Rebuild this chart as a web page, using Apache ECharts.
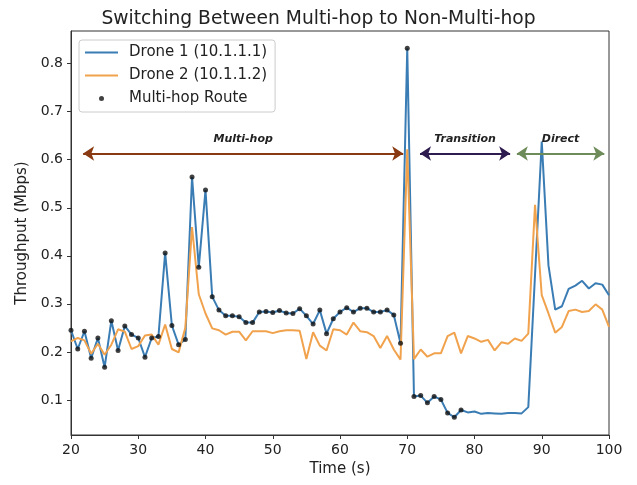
<!DOCTYPE html>
<html>
<head>
<meta charset="utf-8">
<script src="https://cdn.jsdelivr.net/npm/echarts@6/dist/echarts.min.js"></script>
<style>html,body{margin:0;padding:0;background:#fff}#c{width:637px;height:485px}</style>
</head>
<body>
<div id="c"></div>
<script>
const times = [20,21,22,23,24,25,26,27,28,29,30,31,32,33,34,35,36,37,38,39,40,41,42,43,44,45,46,47,48,49,50,51,52,53,54,55,56,57,58,59,60,61,62,63,64,65,66,67,68,69,70,71,72,73,74,75,76,77,78,79,80,81,82,83,84,85,86,87,88,89,90,91,92,93,94,95,96,97,98,99,100];
const drone1 = [0.245,0.206,0.243,0.187,0.229,0.168,0.265,0.203,0.254,0.236,
 0.229,0.189,0.229,0.232,0.406,0.255,0.215,0.226,0.564,0.376,
 0.537,0.315,0.287,0.275,0.275,0.273,0.261,0.261,0.283,0.284,
 0.282,0.286,0.281,0.280,0.290,0.275,0.258,0.287,0.238,0.269,
 0.283,0.292,0.283,0.291,0.291,0.283,0.283,0.287,0.277,0.218,
 0.832,0.107,0.109,0.094,0.107,0.101,0.073,0.064,0.079,0.074,
 0.076,0.071,0.073,0.072,0.071,0.073,0.073,0.072,0.085,0.360,
 0.638,0.380,0.288,0.295,0.331,0.338,0.348,0.332,0.343,0.340,0.318];
const drone2 = [0.222,0.229,0.224,0.196,0.217,0.194,0.215,0.247,0.242,0.206,
 0.212,0.234,0.236,0.215,0.257,0.206,0.199,0.250,0.460,0.320,
 0.280,0.249,0.245,0.236,0.242,0.242,0.224,0.243,0.243,0.243,
 0.239,0.243,0.245,0.245,0.244,0.185,0.241,0.213,0.203,0.247,
 0.245,0.236,0.261,0.243,0.241,0.233,0.208,0.233,0.205,0.184,
 0.622,0.185,0.205,0.190,0.197,0.197,0.233,0.240,0.197,0.233,
 0.228,0.221,0.225,0.203,0.220,0.217,0.228,0.223,0.238,0.506,
 0.318,0.280,0.240,0.252,0.285,0.288,0.283,0.285,0.299,0.288,0.252];
const multiHopTimes = [20,21,22,23,24,25,26,27,28,29,30,31,32,33,34,35,36,37,38,39,40,41,42,43,44,45,46,47,48,49,50,51,52,53,54,55,56,57,58,59,60,61,62,63,64,65,66,67,68,69,70,71,72,73,74,75,76,77,78];
const yTicks = [0.1,0.2,0.3,0.4,0.5,0.6,0.7,0.8];
const phases = [
  {name:'Multi-hop', from:21.8, to:69.4, y:0.613, color:'#8a3a12'},
  {name:'Transition', from:71.9, to:85.3, y:0.613, color:'#2e1b4f'},
  {name:'Direct', from:86.3, to:99.3, y:0.613, color:'#6e8c5a'}
];

const d1 = times.map((t,i)=>[t, drone1[i]]);
const d2 = times.map((t,i)=>[t, drone2[i]]);
const dots = multiHopTimes.map(t=>[t, drone1[times.indexOf(t)]]);
const FONT = 'DejaVu Sans';

const chart = echarts.init(document.getElementById('c'), null, {renderer:'canvas'});
chart.setOption({
  animation:false,
  textStyle:{fontFamily:FONT},
  title:{text:'Switching Between Multi-hop to Non-Multi-hop', left:'center', top:5,
    textStyle:{fontFamily:FONT, fontSize:18.7, fontWeight:'normal', color:'#222'}},
  grid:{left:71, right:28, top:31, bottom:50, show:true, borderColor:'#333', borderWidth:1, backgroundColor:'transparent'},
  legend:{orient:'vertical', left:79, top:40, itemWidth:33, itemHeight:5, itemGap:8,
    padding:[5,8,6,5], backgroundColor:'rgba(255,255,255,0.85)', borderColor:'#ccc', borderWidth:1, borderRadius:3,
    textStyle:{fontFamily:FONT, fontSize:15, color:'#222', padding:[0,0,0,6]},
    data:[
      {name:'Drone 1 (10.1.1.1)', itemStyle:{opacity:0}},
      {name:'Drone 2 (10.1.1.2)', itemStyle:{opacity:0}},
      {name:'Multi-hop Route'}
    ]},
  xAxis:{type:'value', min:20, max:100, interval:10,
    name:'Time (s)', nameLocation:'middle', nameGap:27,
    nameTextStyle:{fontFamily:FONT, fontSize:15, color:'#222'},
    axisLine:{show:true, lineStyle:{color:'#333'}},
    axisTick:{show:true, length:4, lineStyle:{color:'#333'}},
    axisLabel:{fontFamily:FONT, fontSize:14, color:'#222', margin:8},
    splitLine:{show:false}},
  yAxis:{type:'value', min:0.027, max:0.868,
    name:'Throughput (Mbps)', nameLocation:'middle', nameGap:41, nameRotate:90,
    nameTextStyle:{fontFamily:FONT, fontSize:15, color:'#222'},
    axisLine:{show:true, lineStyle:{color:'#333'}},
    axisTick:{show:true, length:4, lineStyle:{color:'#333'}, customValues:yTicks},
    axisLabel:{fontFamily:FONT, fontSize:14, color:'#222', margin:8, customValues:yTicks,
      formatter:v=>v.toFixed(1)},
    splitLine:{show:false}},
  series:[
    {name:'Drone 1 (10.1.1.1)', type:'line', data:d1, symbol:'none', z:2,
      lineStyle:{width:2, color:'#3a7cb4'}, itemStyle:{color:'#3a7cb4'}},
    {name:'Drone 2 (10.1.1.2)', type:'line', data:d2, symbol:'none', z:3,
      lineStyle:{width:2, color:'#f1a24d'}, itemStyle:{color:'#f1a24d'}},
    {name:'Multi-hop Route', type:'scatter', data:dots, symbolSize:5, z:4,
      itemStyle:{color:'#111'}},
    {name:'phases', type:'line', data:[], z:5,
      markLine:{silent:true, symbol:['arrow','arrow'], symbolSize:[11,11], animation:false,
        data:phases.map(p=>[
          {coord:[p.from,p.y], lineStyle:{color:p.color, width:2, type:'solid'}, itemStyle:{color:p.color},
            label:{show:true, position:'insideMiddleTop', distance:9, formatter:p.name,
              fontFamily:FONT, fontSize:11, fontStyle:'italic', fontWeight:'bold', color:'#222'}},
          {coord:[p.to,p.y]}
        ])}}
  ]
});
</script>
</body>
</html>
